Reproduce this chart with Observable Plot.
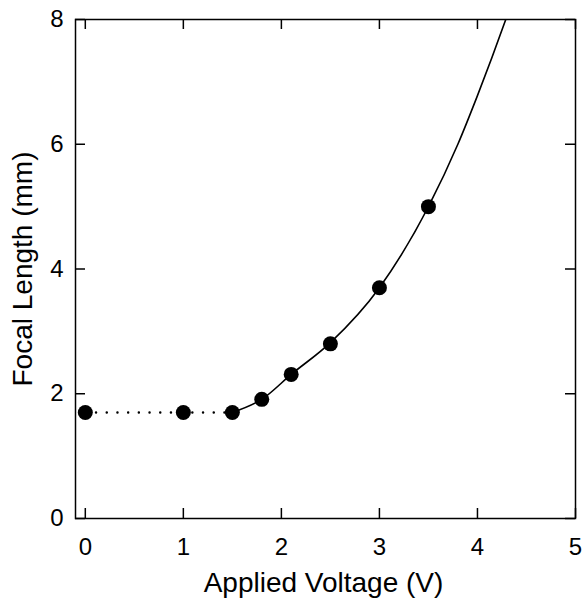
<!DOCTYPE html>
<html>
<head>
<meta charset="utf-8">
<script src="https://cdn.jsdelivr.net/npm/d3@7"></script>
<script src="https://cdn.jsdelivr.net/npm/@observablehq/plot@0.6"></script>
<style>
  html, body { margin: 0; padding: 0; background: #fff; }
</style>
</head>
<body>
<div id="chart"></div>
<script>
// Measured points
const voltage = [0, 1, 1.5, 1.8, 2.1, 2.5, 3.0, 3.5];
const focal = [1.7, 1.7, 1.7, 1.91, 2.31, 2.8, 3.7, 5.0];

// Dotted (flat) segment
const flatV = [0, 1.5];
const flatF = [1.7, 1.7];

// Fitted curve
const curveV = [1.5, 1.8, 2.1, 2.5, 3.0, 3.5, 3.8, 4.0, 4.3, 4.4];
const curveF = [1.7, 1.91, 2.31, 2.82, 3.7, 5.0, 6.0, 6.78, 8.05, 8.5];

// Ticks
const xTicks = [0, 1, 2, 3, 4, 5];
const yTicks = [0, 2, 4, 6, 8];

const xLabel = "Applied Voltage (V)";
const yLabel = "Focal Length (mm)";

const pts = voltage.map((v, i) => ({v, f: focal[i]}));
const flat = flatV.map((v, i) => ({v, f: flatF[i]}));
const curve = curveV.map((v, i) => ({v, f: curveF[i]}));

const W = 582, H = 601;
const mL = 75, mR = 7, mT = 19, mB = 83;
const fw = W - mL - mR, fh = H - mT - mB;
const tl = 10;

const chart = Plot.plot({
  width: W,
  height: H,
  marginLeft: mL,
  marginRight: mR,
  marginTop: mT,
  marginBottom: mB,
  style: {fontFamily: "'Liberation Sans', Arial, Helvetica, sans-serif", background: "#fff", color: "#000"},
  x: {domain: [-0.1, 5], axis: null},
  y: {domain: [0, 8], axis: null},
  marks: [
    // inward ticks on all four sides
    Plot.tickX(xTicks, {x: d => d, insetTop: fh - tl, stroke: "#000", strokeWidth: 1.5}),
    Plot.tickX(xTicks, {x: d => d, insetBottom: fh - tl, stroke: "#000", strokeWidth: 1.5}),
    Plot.tickY(yTicks, {y: d => d, insetRight: fw - tl, stroke: "#000", strokeWidth: 1.5}),
    Plot.tickY(yTicks, {y: d => d, insetLeft: fw - tl, stroke: "#000", strokeWidth: 1.5}),
    Plot.frame({stroke: "#000", strokeWidth: 1.5}),
    // tick labels
    Plot.text(xTicks, {x: d => d, text: d => String(d), frameAnchor: "bottom", lineAnchor: "middle", dy: 29, fontSize: 24, fill: "#000"}),
    Plot.text(yTicks, {y: d => d, text: d => String(d), frameAnchor: "left", lineAnchor: "middle", dx: -12, textAnchor: "end", fontSize: 24, fill: "#000"}),
    // axis titles
    Plot.text([xLabel], {frameAnchor: "bottom", lineAnchor: "middle", textAnchor: "middle", dy: 65, dx: -2, fontSize: 28, fill: "#000"}),
    Plot.text([yLabel], {frameAnchor: "left", lineAnchor: "middle", textAnchor: "middle", dx: -52, rotate: -90, fontSize: 28, fill: "#000"}),
    // data
    Plot.line(flat, {x: "v", y: "f", stroke: "#000", strokeWidth: 2.4, strokeDasharray: "0.1,10.6", strokeLinecap: "round"}),
    Plot.line(curve, {x: "v", y: "f", curve: "monotone-x", stroke: "#000", strokeWidth: 1.6, clip: true}),
    Plot.dot(pts, {x: "v", y: "f", r: 7.5, fill: "#000", stroke: "none"})
  ]
});
document.getElementById("chart").appendChild(chart);
</script>
</body>
</html>
